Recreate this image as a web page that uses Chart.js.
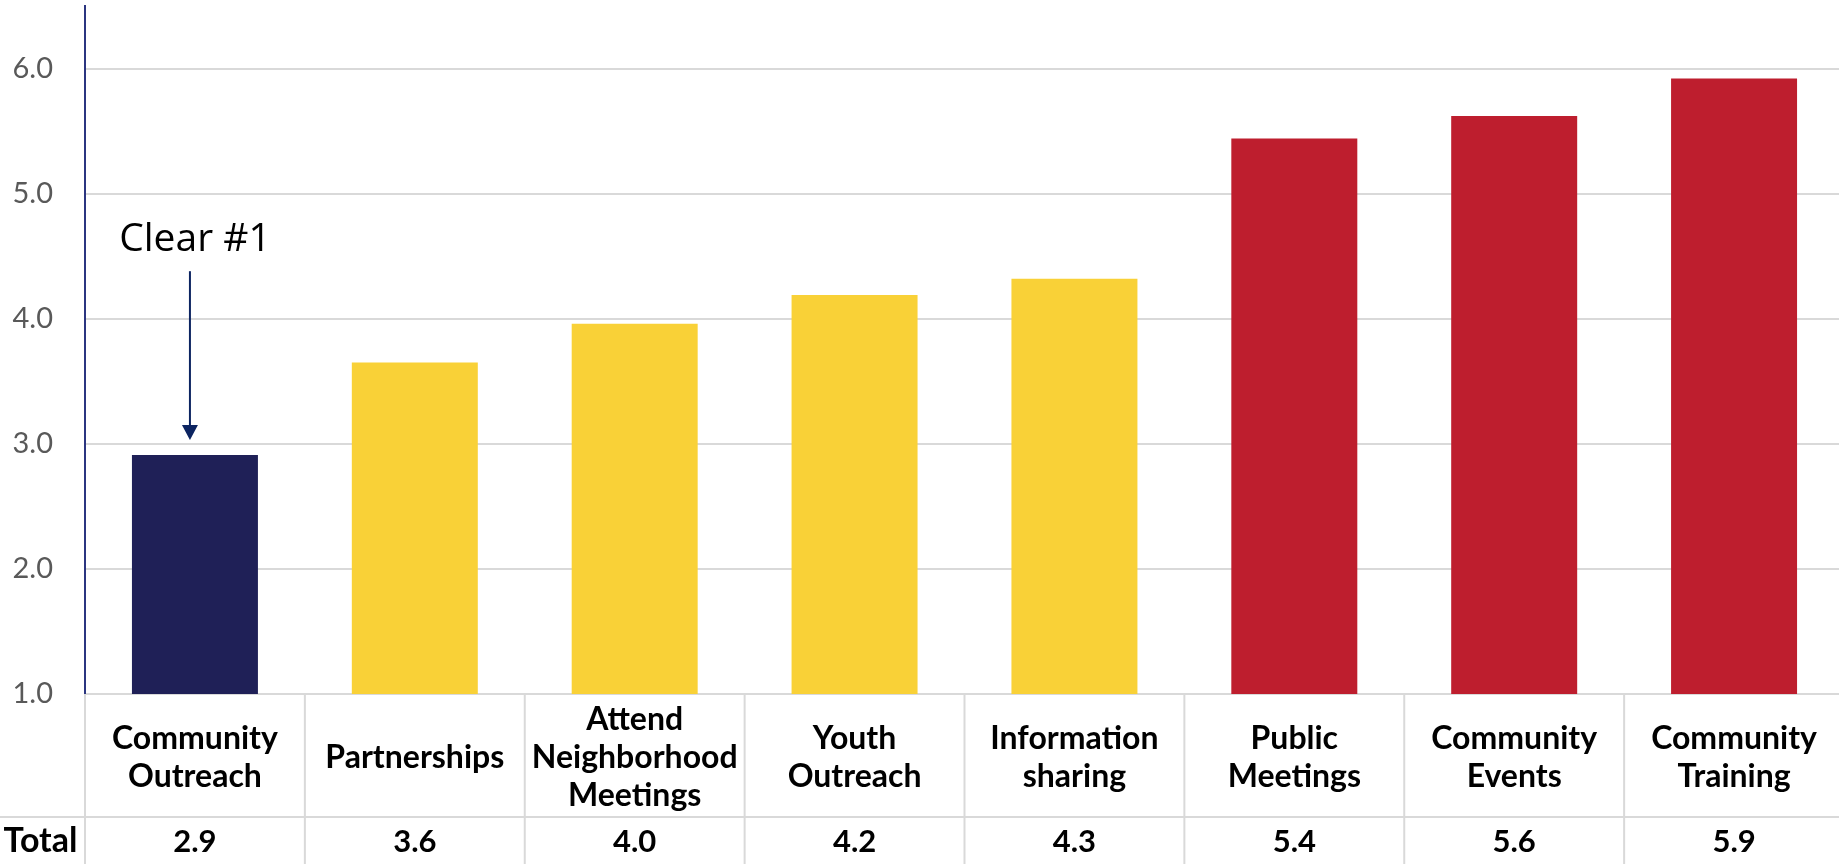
<!DOCTYPE html>
<html>
<head>
<meta charset="utf-8">
<script src="https://cdn.jsdelivr.net/npm/chart.js@4/dist/chart.umd.min.js"></script>
<style>
  html, body { margin: 0; padding: 0; background: #fff; overflow: hidden; }
  #wrap { position: relative; width: 1844px; height: 864px; }
</style>
</head>
<body>
<div id="wrap"><canvas id="chart"></canvas></div>
<script>
// chart data
const categories = [
    ['Community', 'Outreach'],
    ['Partnerships'],
    ['Attend', 'Neighborhood', 'Meetings'],
    ['Youth', 'Outreach'],
    ['Information', 'sharing'],
    ['Public', 'Meetings'],
    ['Community', 'Events'],
    ['Community', 'Training']
];
const values = [2.91, 3.65, 3.96, 4.19, 4.32, 5.44, 5.62, 5.92];
const totals = ['2.9', '3.6', '4.0', '4.2', '4.3', '5.4', '5.6', '5.9'];
const rowLabel = 'Total';
const yMin = 1.0;
const yMax = 6.5;

const NAVY = '#1f2057';
const YELLOW = '#f9d137';
const RED = '#be1e2e';
const barColors = [NAVY, YELLOW, YELLOW, YELLOW, YELLOW, RED, RED, RED];
const GRID = '#d9d9d9';

// table under the axis: cell borders and the "Total" row
const tablePlugin = {
    id: 'tablePlugin',
    afterDraw(chart) {
        const ctx = chart.ctx;
        const xs = chart.scales.x;
        const step = xs.getPixelForValue(1) - xs.getPixelForValue(0);
        const top = xs.top;
        const rowY = top + 123;
        const bottom = chart.height;

        ctx.save();
        ctx.strokeStyle = GRID;
        ctx.lineWidth = 2;
        ctx.beginPath();
        ctx.moveTo(0, rowY);
        ctx.lineTo(chart.width, rowY);
        for (let i = 0; i <= categories.length; i++) {
            const x = xs.getPixelForValue(i) - step / 2;
            ctx.moveTo(x, top);
            ctx.lineTo(x, bottom);
        }
        ctx.stroke();

        ctx.fillStyle = '#000';
        ctx.textAlign = 'center';
        ctx.textBaseline = 'middle';
        const midY = (rowY + bottom) / 2 + 1;
        ctx.font = 'bold 34px Lato';
        ctx.fillText(rowLabel, xs.left / 2 - 2, midY);
        ctx.font = 'bold 31px Lato';
        totals.forEach((t, i) => {
            ctx.fillText(t, xs.getPixelForValue(i), midY);
        });
        ctx.restore();
    }
};

// "Clear #1" callout with arrow
const calloutPlugin = {
    id: 'calloutPlugin',
    afterDatasetsDraw(chart) {
        const ctx = chart.ctx;
        const xs = chart.scales.x;
        const ys = chart.scales.y;
        const cx = xs.getPixelForValue(0);
        const ax = cx - 5;
        const yStart = ys.getPixelForValue(4.38);
        const yTip = ys.getPixelForValue(3.03);

        ctx.save();
        ctx.strokeStyle = '#0c2461';
        ctx.fillStyle = '#0c2461';
        ctx.lineWidth = 2;
        ctx.beginPath();
        ctx.moveTo(ax, yStart);
        ctx.lineTo(ax, yTip - 12);
        ctx.stroke();
        ctx.beginPath();
        ctx.moveTo(ax - 8, yTip - 15);
        ctx.lineTo(ax + 8, yTip - 15);
        ctx.lineTo(ax, yTip);
        ctx.closePath();
        ctx.fill();

        ctx.fillStyle = '#000';
        ctx.font = '39px "Open Sans"';
        ctx.textAlign = 'center';
        ctx.textBaseline = 'alphabetic';
        ctx.fillText('Clear #1', cx, ys.getPixelForValue(4.54));
        ctx.restore();
    }
};

new Chart(document.getElementById('chart'), {
    type: 'bar',
    data: {
        labels: categories,
        datasets: [{
            data: values,
            backgroundColor: barColors,
            borderWidth: 0,
            barPercentage: 0.573,
            categoryPercentage: 1.0
        }]
    },
    options: {
        responsive: true,
        maintainAspectRatio: false,
        animation: false,
        layout: { padding: { top: 6, left: 0, right: 0, bottom: 0 } },
        plugins: {
            legend: { display: false },
            tooltip: { enabled: false }
        },
        scales: {
            x: {
                offset: true,
                grid: { display: false },
                border: { display: true, color: GRID, width: 2 },
                ticks: {
                    autoSkip: false,
                    maxRotation: 0,
                    crossAlign: 'center',
                    padding: 18,
                    color: '#000',
                    font: { family: 'Lato', weight: 'bold', size: 32, lineHeight: 1.18 }
                },
                afterFit(scale) {
                    scale.height = 170;
                    scale.paddingLeft = 0;
                    scale.paddingRight = 0;
                }
            },
            y: {
                min: yMin,
                max: yMax,
                grid: { color: GRID, lineWidth: 2, drawTicks: false },
                border: { display: true, color: '#2b3580', width: 2 },
                ticks: {
                    stepSize: 1,
                    padding: 32,
                    color: '#595959',
                    font: { family: 'Lato', size: 29 },
                    callback: (v) => v.toFixed(1)
                },
                afterBuildTicks(scale) {
                    scale.ticks = scale.ticks.filter(t => Number.isInteger(t.value));
                },
                afterFit(scale) {
                    scale.width = 85;
                    scale.paddingTop = 0;
                    scale.paddingBottom = 0;
                }
            }
        }
    },
    plugins: [tablePlugin, calloutPlugin]
});
</script>
</body>
</html>
